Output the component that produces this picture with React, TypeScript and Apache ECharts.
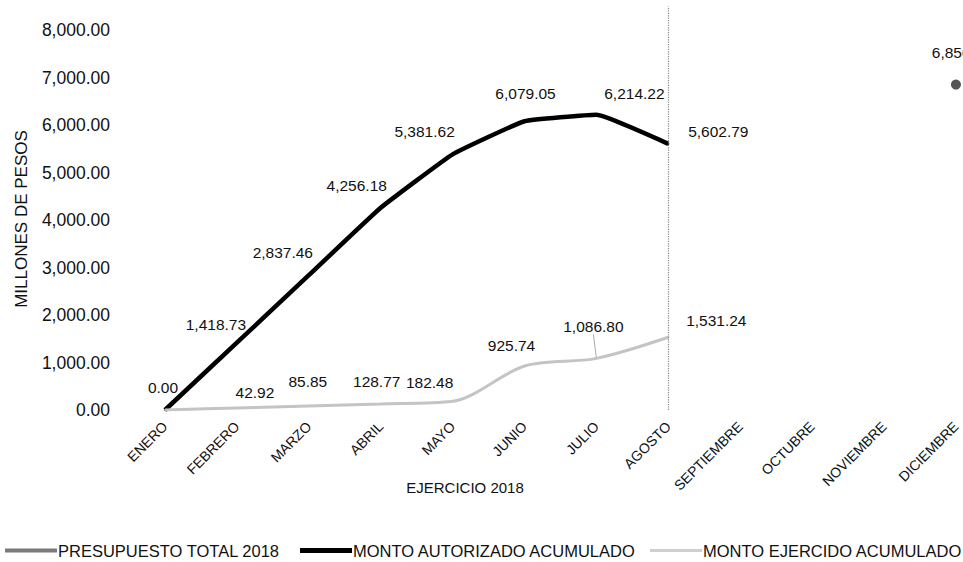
import React, { useEffect, useRef } from "react";
import * as echarts from "echarts";

const months = [
  "ENERO", "FEBRERO", "MARZO", "ABRIL", "MAYO", "JUNIO",
  "JULIO", "AGOSTO", "SEPTIEMBRE", "OCTUBRE", "NOVIEMBRE", "DICIEMBRE",
];
const autorizado = [0, 1418.73, 2837.46, 4256.18, 5381.62, 6079.05, 6214.22, 5602.79, null, null, null, null];
const ejercido = [0, 42.92, 85.85, 128.77, 182.48, 925.74, 1086.8, 1531.24, null, null, null, null];
const presupuesto = [null, null, null, null, null, null, null, null, null, null, null, 6850.0];
const yTicks = { min: 0, max: 8500, interval: 1000, labelMax: 8000 };

const names = {
  pres: "PRESUPUESTO TOTAL 2018",
  aut: "MONTO AUTORIZADO ACUMULADO",
  eje: "MONTO EJERCIDO ACUMULADO",
};

// label placement tweaks (relative to the default "top" position)
const autLabelOffsets: number[][] = [[-2, -9], [-21, -4], [-26, -9], [-24, -8], [-28, -9], [1, -14], [38, -7], [50, 2]];
const ejeLabelOffsets: number[][] = [[0, 0], [18, -1], [-1, -10], [-4, -8], [-23, -5], [-13, -7], [-3, -18], [48, -3]];
const ejeLeaderIndex = 6;

const fmt = (v: number) =>
  v.toLocaleString("en-US", { minimumFractionDigits: 2, maximumFractionDigits: 2 });

const FONT = "Liberation Sans, Arial, sans-serif";

export default function App() {
  const ref = useRef<HTMLDivElement>(null);
  useEffect(() => {
    if (!ref.current) return;
    const chart = echarts.init(ref.current, null, { renderer: "svg" });

    const labelStyle = { fontFamily: FONT, fontSize: 15.5, color: "#111" };

    const autData = autorizado.map((v, i) =>
      v == null
        ? null
        : {
            value: v,
            label: { offset: autLabelOffsets[i] || [0, 0] },
          }
    );
    const ejeData = ejercido.map((v, i) =>
      v == null
        ? null
        : {
            value: v,
            label: { show: i !== 0 },
            labelLine: { show: i === ejeLeaderIndex },
          }
    );

    const legendBase = {
      top: 542,
      padding: 0,
      icon: "rect",
      itemWidth: 52,
      itemGap: 5,
      textStyle: { fontFamily: FONT, fontSize: 16.5, color: "#111", padding: [0, 0, 0, -4] },
      selectedMode: false,
    };

    chart.setOption({
      animation: false,
      backgroundColor: "#fff",
      grid: { left: 165, top: 6.25, width: 795, height: 403.75, containLabel: false },
      xAxis: {
        type: "category",
        data: months,
        boundaryGap: false,
        axisLine: { show: false },
        axisTick: { show: false },
        splitLine: { show: false },
        axisLabel: {
          rotate: 45,
          margin: 14,
          interval: 0,
          fontFamily: FONT,
          fontSize: 14,
          color: "#111",
        },
      },
      yAxis: {
        type: "value",
        min: yTicks.min,
        max: yTicks.max,
        interval: yTicks.interval,
        axisLine: { show: false },
        axisTick: { show: false },
        splitLine: { show: false },
        axisLabel: {
          margin: 55,
          fontFamily: FONT,
          fontSize: 17.5,
          color: "#111",
          formatter: (v: number) => (v > yTicks.labelMax ? "" : fmt(v)),
        },
      },
      legend: [
        { ...legendBase, left: 5, data: [{ name: names.pres, itemStyle: { color: "#7a7a7a" } }], itemHeight: 4 },
        { ...legendBase, left: 300, data: [{ name: names.aut, itemStyle: { color: "#000" } }], itemHeight: 5 },
        { ...legendBase, left: 650, data: [{ name: names.eje, itemStyle: { color: "#cfcfcf" } }], itemHeight: 3 },
      ],
      graphic: [
        {
          type: "text",
          x: 21,
          y: 219,
          rotation: Math.PI / 2,
          style: {
            text: "MILLONES DE PESOS",
            fontFamily: FONT,
            fontSize: 17,
            fill: "#111",
            align: "center",
            verticalAlign: "middle",
          },
        },
        {
          type: "text",
          x: 465,
          y: 487,
          style: {
            text: "EJERCICIO 2018",
            fontFamily: FONT,
            fontSize: 15,
            fill: "#111",
            align: "center",
            verticalAlign: "middle",
          },
        },
      ],
      series: [
        {
          name: names.pres,
          type: "line",
          data: presupuesto,
          symbol: "circle",
          symbolSize: 10,
          itemStyle: { color: "#555" },
          lineStyle: { color: "#7a7a7a", width: 4 },
          label: {
            show: true,
            position: "top",
            offset: [6, -14],
            formatter: (p: any) => fmt(p.value),
            ...labelStyle,
          },
        },
        {
          name: names.aut,
          type: "line",
          data: autData,
          smooth: 0.1,
          symbol: "circle",
          symbolSize: 2,
          itemStyle: { color: "#000" },
          lineStyle: { color: "#000", width: 4.5 },
          label: {
            show: true,
            position: "top",
            formatter: (p: any) => fmt(p.value),
            ...labelStyle,
          },
          markLine: {
            silent: true,
            symbol: "none",
            label: { show: false },
            lineStyle: { color: "#8a8a8a", type: "dotted", width: 1.2 },
            data: [{ xAxis: "AGOSTO" }],
          },
        },
        {
          name: names.eje,
          type: "line",
          data: ejeData,
          smooth: 0.3,
          symbol: "circle",
          symbolSize: 2,
          itemStyle: { color: "#c4c4c4" },
          lineStyle: { color: "#c4c4c4", width: 3 },
          label: {
            show: true,
            position: "top",
            formatter: (p: any) => fmt(p.value),
            ...labelStyle,
          },
          labelLine: { show: false, lineStyle: { color: "#aaa", width: 1 } },
          labelLayout: (params: any) => {
            const o = ejeLabelOffsets[params.dataIndex] || [0, 0];
            return { dx: o[0], dy: o[1] };
          },
        },
      ],
    });
    return () => chart.dispose();
  }, []);

  return (
    <div
      ref={ref}
      style={{ position: "fixed", left: 0, top: 0, width: 963, height: 562, background: "#fff" }}
    />
  );
}
